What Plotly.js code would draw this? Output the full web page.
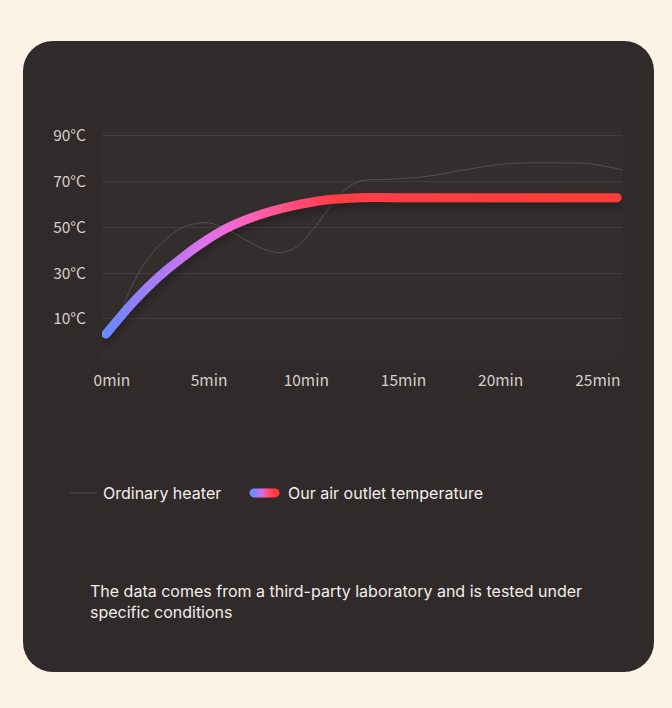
<!DOCTYPE html>
<html>
<head>
<meta charset="utf-8">
<script src="https://cdn.plot.ly/plotly-3.0.1.min.js"></script>
<style>
  html, body { margin: 0; padding: 0; background: #fdf2e6; }
  #wrap { position: relative; width: 672px; height: 708px; background: #fdf2e6; overflow: hidden; }
  #card { position: absolute; left: 23px; top: 41px; width: 631px; height: 631px; border-radius: 30px; background: #302a2a; }
  #chart { position: absolute; left: 0; top: 0; width: 672px; height: 708px; }
  .scatterlayer .js-line { stroke-linecap: round; }
  .legendlines path { stroke-linecap: round; }
</style>
</head>
<body>
<div id="wrap">
  <div id="card"></div>
  <div id="chart"></div>
</div>
<script>
// ---- data ----
const heaterMinutes = [0, 0.6, 1.24, 2.0, 2.87, 3.9, 5.1, 5.96, 7.1, 8.0, 8.96, 9.8, 10.76, 11.6, 12.3, 12.98, 15, 16.7, 18.4, 20.6, 23.2, 24.9, 26.6];
const heaterTemp    = [3.4, 10, 22.7, 34.5, 43.2, 49.8, 52.1, 50.3, 45.0, 40.9, 39.0, 41.4, 50.3, 59.8, 66.4, 70.0, 71.2, 72.5, 75.1, 77.8, 78.2, 77.8, 75.1];
const outletMinutes = [0, 0.7, 1.4, 2.2, 3.1, 4.0, 4.8, 6.2, 7.8, 9.6, 11.3, 13, 15, 20, 26.3];
const outletTemp    = [3.4, 10.5, 17.3, 24.3, 31.2, 37.3, 42.3, 49.6, 55.2, 59.4, 62.0, 63.0, 63.0, 63.0, 63.0];
const seriesNames = ["Ordinary heater", "Our air outlet temperature"];
const xSuffix = "min";
const ySuffix = "°C";
const footnote = "The data comes from a third-party laboratory and is tested under<br>specific conditions";

const tickFont = { family: "Noto Sans CJK SC, Noto Sans, sans-serif", size: 15.5, color: "#d6cfca" };
const legendFont = { family: "Inter, Roboto, sans-serif", size: 16, color: "#f3efeb" };

const traces = [
  {
    x: heaterMinutes, y: heaterTemp, name: seriesNames[0], legend: "legend",
    type: "scatter", mode: "lines",
    line: { color: "rgba(255,255,255,0.16)", width: 1, shape: "spline", smoothing: 1 },
    hoverinfo: "skip"
  },
  {
    x: outletMinutes, y: outletTemp, name: seriesNames[1], legend: "legend2",
    type: "scatter", mode: "lines",
    line: { color: "#ff3b3b", width: 9, shape: "spline", smoothing: 1 },
    hoverinfo: "skip", cliponaxis: false
  }
];

const legendBase = {
  orientation: "h", xref: "container", yref: "container",
  y: 1 - 493 / 708, xanchor: "left", yanchor: "middle",
  bgcolor: "rgba(0,0,0,0)", font: legendFont,
  itemclick: false, itemdoubleclick: false
};

const layout = {
  width: 672, height: 708,
  paper_bgcolor: "rgba(0,0,0,0)",
  plot_bgcolor: "#332d2d",
  margin: { l: 102, r: 49, t: 129, b: 349 },
  showlegend: true,
  xaxis: {
    range: [-0.2, 26.6], dtick: 5, tick0: 0, ticksuffix: xSuffix,
    showgrid: false, zeroline: false, showline: false, ticks: "",
    tickfont: tickFont, ticklabelstandoff: 10, ticklabelshift: 6, fixedrange: true
  },
  yaxis: {
    range: [-7.5, 93], dtick: 20, tick0: 10, ticksuffix: ySuffix,
    showgrid: true, gridcolor: "rgba(255,255,255,0.07)", gridwidth: 1,
    zeroline: false, showline: false, ticks: "",
    tickfont: tickFont, ticklabelstandoff: 15, fixedrange: true
  },
  legend: Object.assign({}, legendBase, { x: 63 / 672 }),
  legend2: Object.assign({}, legendBase, { x: 248 / 672 }),
  annotations: [{
    text: footnote, xref: "paper", yref: "paper",
    x: -0.027, y: -0.955, xanchor: "left", yanchor: "top", align: "left",
    showarrow: false,
    font: { family: "Inter, Roboto, sans-serif", size: 16, color: "#f2eeea" }
  }]
};

function addGradient(svg, id, path, stops) {
  const ns = "http://www.w3.org/2000/svg";
  let defs = svg.querySelector("defs#customdefs");
  if (!defs) {
    defs = document.createElementNS(ns, "defs");
    defs.setAttribute("id", "customdefs");
    svg.insertBefore(defs, svg.firstChild);
  }
  const bb = path.getBBox();
  const g = document.createElementNS(ns, "linearGradient");
  g.setAttribute("id", id);
  g.setAttribute("gradientUnits", "userSpaceOnUse");
  g.setAttribute("x1", bb.x);
  g.setAttribute("x2", bb.x + Math.max(bb.width, 1));
  g.setAttribute("y1", 0);
  g.setAttribute("y2", 0);
  stops.forEach(s => {
    const st = document.createElementNS(ns, "stop");
    st.setAttribute("offset", s[0]);
    st.setAttribute("stop-color", s[1]);
    g.appendChild(st);
  });
  defs.appendChild(g);
  path.style.stroke = "url(#" + id + ")";
  return defs;
}

Plotly.newPlot("chart", traces, layout, { displayModeBar: false, staticPlot: true }).then(gd => {
  const svg = gd.querySelector("svg.main-svg");
  const ns = "http://www.w3.org/2000/svg";
  const lines = gd.querySelectorAll(".scatterlayer .trace");
  const mainPath = lines[1].querySelector("path.js-line");
  const defs = addGradient(svg, "gradMain", mainPath, [
    [0, "#6a88ff"], [0.09, "#a27cf4"], [0.2, "#e171ec"], [0.28, "#ff62b8"],
    [0.36, "#ff4d80"], [0.44, "#ff3e48"], [1, "#ff3a36"]
  ]);
  const f = document.createElementNS(ns, "filter");
  f.setAttribute("id", "lineShadow");
  f.setAttribute("x", "-10%"); f.setAttribute("y", "-30%");
  f.setAttribute("width", "120%"); f.setAttribute("height", "160%");
  const ds = document.createElementNS(ns, "feDropShadow");
  ds.setAttribute("dx", "0"); ds.setAttribute("dy", "5");
  ds.setAttribute("stdDeviation", "4");
  ds.setAttribute("flood-color", "#000"); ds.setAttribute("flood-opacity", "0.3");
  f.appendChild(ds); defs.appendChild(f);
  mainPath.setAttribute("filter", "url(#lineShadow)");

  const svgs = gd.querySelectorAll("svg.main-svg");
  const hostSvg = svgs[svgs.length - 1];
  const gp = gd.querySelector(".legend .legendlines path");
  if (gp) gp.setAttribute("d", "M7,0h26");
  const lp = gd.querySelector(".legend2 .legendlines path") ||
             (gd.querySelectorAll(".legendlines path")[1]);
  if (lp) {
    lp.setAttribute("d", "M6,0h21");
    addGradient(hostSvg, "gradLegend", lp, [
      [0, "#6f8cff"], [0.35, "#d56fee"], [0.65, "#ff4d7a"], [1, "#ff3a3a"]
    ]);
  }
});
</script>
</body>
</html>
